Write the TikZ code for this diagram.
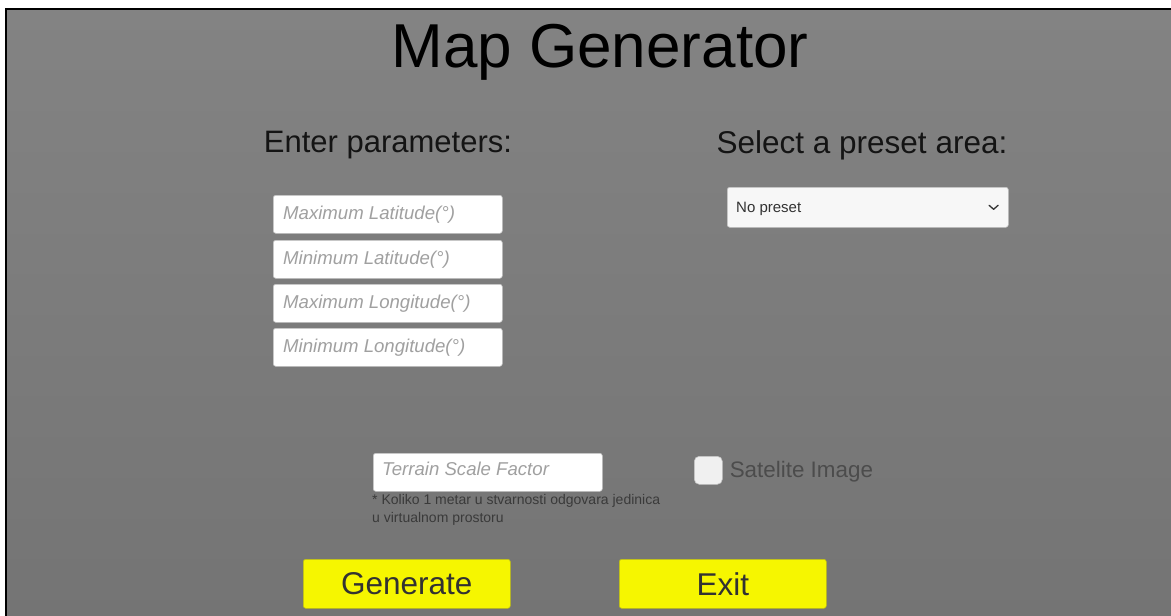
\documentclass[tikz,border=0pt]{standalone}
\usepackage{fontspec}
\setmainfont{Liberation Sans}
\definecolor{bgtop}{RGB}{131,131,131}
\definecolor{bgbot}{RGB}{116,116,116}
\definecolor{phgray}{RGB}{160,160,160}
\definecolor{darktxt}{RGB}{50,50,50}
\definecolor{notetxt}{RGB}{58,58,58}
\definecolor{boxedge}{RGB}{195,195,195}
\definecolor{btnyellow}{RGB}{246,246,0}
\definecolor{btnedge}{RGB}{190,190,20}
\begin{document}
\begin{tikzpicture}[x=1pt,y=-1pt,
  inbox/.style={draw=boxedge,line width=0.6pt,fill=white,rounded corners=2.5pt,minimum width=229pt,minimum height=38pt,inner sep=0pt,anchor=north west},
  ph/.style={text=phgray,font=\fontsize{18.6}{18.6}\itshape\selectfont,anchor=west,inner sep=0pt},
  btn/.style={draw=btnedge,line width=0.6pt,fill=btnyellow,rounded corners=2.5pt,minimum width=207pt,minimum height=49pt,inner sep=0pt,anchor=north west,text=darktxt,font=\fontsize{31.5}{31.5}\selectfont},
  hdr/.style={text=black!92,font=\fontsize{31}{31}\selectfont,anchor=base,inner sep=0pt}]
\useasboundingbox (0,0) rectangle (1171,616);
% background
\shade[top color=bgtop,bottom color=bgbot] (6,9) rectangle (1180,620);
\draw[line width=2.2pt,black] (6,620) -- (6,9) -- (1180,9);
% title
\node[text=black,font=\fontsize{62}{62}\selectfont,anchor=base,inner sep=0pt] (title) at (600,67) {Map Generator};
\node[hdr] (enter) at (388,152) {Enter parameters:};
\node[hdr,font=\fontsize{31.5}{31.5}\selectfont] (select) at (862,153) {Select a preset area:};
% input boxes
\node[inbox] (maxlat) at (273,195) {};
\node[inbox] (minlat) at (273,240) {};
\node[inbox] (maxlon) at (273,284) {};
\node[inbox] (minlon) at (273,328) {};
\node[ph] (tmaxlat) at ([xshift=10pt]maxlat.west) {Maximum Latitude(°)};
\node[ph] (tminlat) at ([xshift=10pt]minlat.west) {Minimum Latitude(°)};
\node[ph] (tmaxlon) at ([xshift=10pt]maxlon.west) {Maximum Longitude(°)};
\node[ph] (tminlon) at ([xshift=10pt]minlon.west) {Minimum Longitude(°)};
% dropdown
\node[draw=boxedge,line width=0.6pt,fill=white!97!black,rounded corners=2.5pt,minimum width=281pt,minimum height=40pt,inner sep=0pt,anchor=north west] (preset) at (727,187) {};
\node[anchor=west,inner sep=0pt,text=darktxt,font=\fontsize{15}{15}\selectfont] (presettxt) at ([xshift=9pt,yshift=-1.5pt]preset.west) {No preset};
\coordinate (chev) at ([xshift=-15pt]preset.east);
\draw[darktxt,line width=1.3pt,line cap=round,line join=round] ([xshift=-4.5pt,yshift=2pt]chev) -- ([yshift=-2pt]chev) -- ([xshift=4.5pt,yshift=2pt]chev);
% terrain scale
\node[inbox] (scale) at (373,453) {};
\node[ph] (tscale) at ([xshift=9pt,yshift=3pt]scale.west) {Terrain Scale Factor};
\node[anchor=north west,inner sep=0pt,text=notetxt,align=left,font=\fontsize{14}{17.5}\selectfont] (note) at (372,494.5) {* Koliko 1 metar u stvarnosti odgovara jedinica\\u virtualnom prostoru};
% checkbox
\node[draw=boxedge,line width=0.6pt,fill=white!94!black,rounded corners=5pt,minimum width=28pt,minimum height=28pt,inner sep=0pt,anchor=north west] (check) at (694,456) {};
\node[anchor=west,inner sep=0pt,text=black!70,font=\fontsize{22.4}{22.4}\selectfont] (sat) at ([xshift=7pt,yshift=-1pt]check.east) {Satelite Image};
% buttons
\node[btn] (gen) at (303,559) {Generate};
\node[btn] (exit) at (619,559) {Exit};
\end{tikzpicture}
\end{document}
